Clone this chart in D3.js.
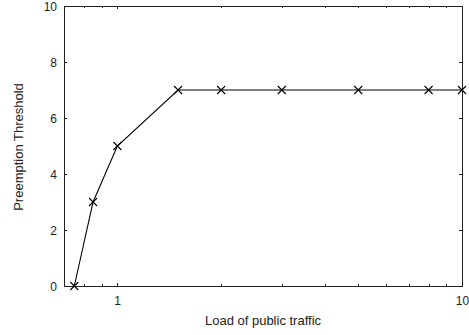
<!DOCTYPE html>
<html>
<head>
<meta charset="utf-8">
<script src="https://cdn.jsdelivr.net/npm/d3@7"></script>
<style>
  html, body { margin: 0; padding: 0; background: #fff; }
  svg { display: block; }
  text { font-family: "Liberation Sans", Arial, Helvetica, sans-serif; fill: #222; }
</style>
</head>
<body>
<svg id="chart" width="469" height="335"></svg>
<script>
// Preemption threshold as a function of public traffic load
const loads = [0.75, 0.85, 1, 1.5, 2, 3, 5, 8, 10];
const thresholds = [0, 3, 5, 7, 7, 7, 7, 7, 7];
const yTicks = [0, 2, 4, 6, 8, 10];
const xMajorTicks = [1, 10];
const xMinorTicks = [0.8, 0.9, 2, 3, 4, 5, 6, 7, 8, 9];

const svg = d3.select("#chart");
const plotL = 64, plotR = 462, plotT = 6, plotB = 286;

const x = d3.scaleLog().domain([0.7, 10]).range([plotL, plotR]);
const y = d3.scaleLinear().domain([0, 10]).range([plotB, plotT]);

const g = svg.append("g");
const tickLen = 3, minorLen = 2;

// frame
g.append("rect")
  .attr("x", plotL + 0.5).attr("y", plotT + 0.5)
  .attr("width", plotR - plotL).attr("height", plotB - plotT)
  .attr("fill", "none").attr("stroke", "#222").attr("stroke-width", 1);

// y axis ticks (mirrored on right side, pointing inward)
yTicks.forEach(v => {
  const py = Math.round(y(v)) + 0.5;
  g.append("line").attr("x1", plotL).attr("x2", plotL + tickLen).attr("y1", py).attr("y2", py)
    .attr("stroke", "#222");
  g.append("line").attr("x1", plotR).attr("x2", plotR - tickLen).attr("y1", py).attr("y2", py)
    .attr("stroke", "#222");
  g.append("text").attr("x", plotL - 7).attr("y", py).attr("dy", "0.36em")
    .attr("text-anchor", "end").attr("font-size", 12).text(v);
});

// x axis ticks (log scale, mirrored on top)
xMajorTicks.forEach(v => {
  const px = Math.round(x(v)) + 0.5;
  g.append("line").attr("x1", px).attr("x2", px).attr("y1", plotB).attr("y2", plotB - tickLen)
    .attr("stroke", "#222");
  g.append("line").attr("x1", px).attr("x2", px).attr("y1", plotT).attr("y2", plotT + tickLen)
    .attr("stroke", "#222");
  g.append("text").attr("x", px).attr("y", plotB + 19)
    .attr("text-anchor", "middle").attr("font-size", 12).text(v);
});
xMinorTicks.forEach(v => {
  const px = Math.round(x(v)) + 0.5;
  g.append("line").attr("x1", px).attr("x2", px).attr("y1", plotB).attr("y2", plotB - minorLen)
    .attr("stroke", "#222");
  g.append("line").attr("x1", px).attr("x2", px).attr("y1", plotT).attr("y2", plotT + minorLen)
    .attr("stroke", "#222");
});

// axis titles
svg.append("text").attr("x", (plotL + plotR) / 2).attr("y", 325)
  .attr("text-anchor", "middle").attr("font-size", 13).text("Load of public traffic");
svg.append("text")
  .attr("transform", `translate(23,${(plotT + plotB) / 2 + 1}) rotate(-90)`)
  .attr("text-anchor", "middle").attr("font-size", 13).text("Preemption Threshold");

// data line
const pts = loads.map((d, i) => [d, thresholds[i]]);
const line = d3.line().x(d => x(d[0])).y(d => y(d[1]));
g.append("path").datum(pts).attr("d", line)
  .attr("fill", "none").attr("stroke", "#000").attr("stroke-width", 1.1);

// cross markers
const s = 4;
g.selectAll("path.mark").data(pts).join("path")
  .attr("class", "mark")
  .attr("d", d => {
    const cx = x(d[0]), cy = y(d[1]);
    return `M${cx - s},${cy - s}L${cx + s},${cy + s}M${cx - s},${cy + s}L${cx + s},${cy - s}`;
  })
  .attr("stroke", "#000").attr("stroke-width", 1.1).attr("fill", "none");
</script>
</body>
</html>
